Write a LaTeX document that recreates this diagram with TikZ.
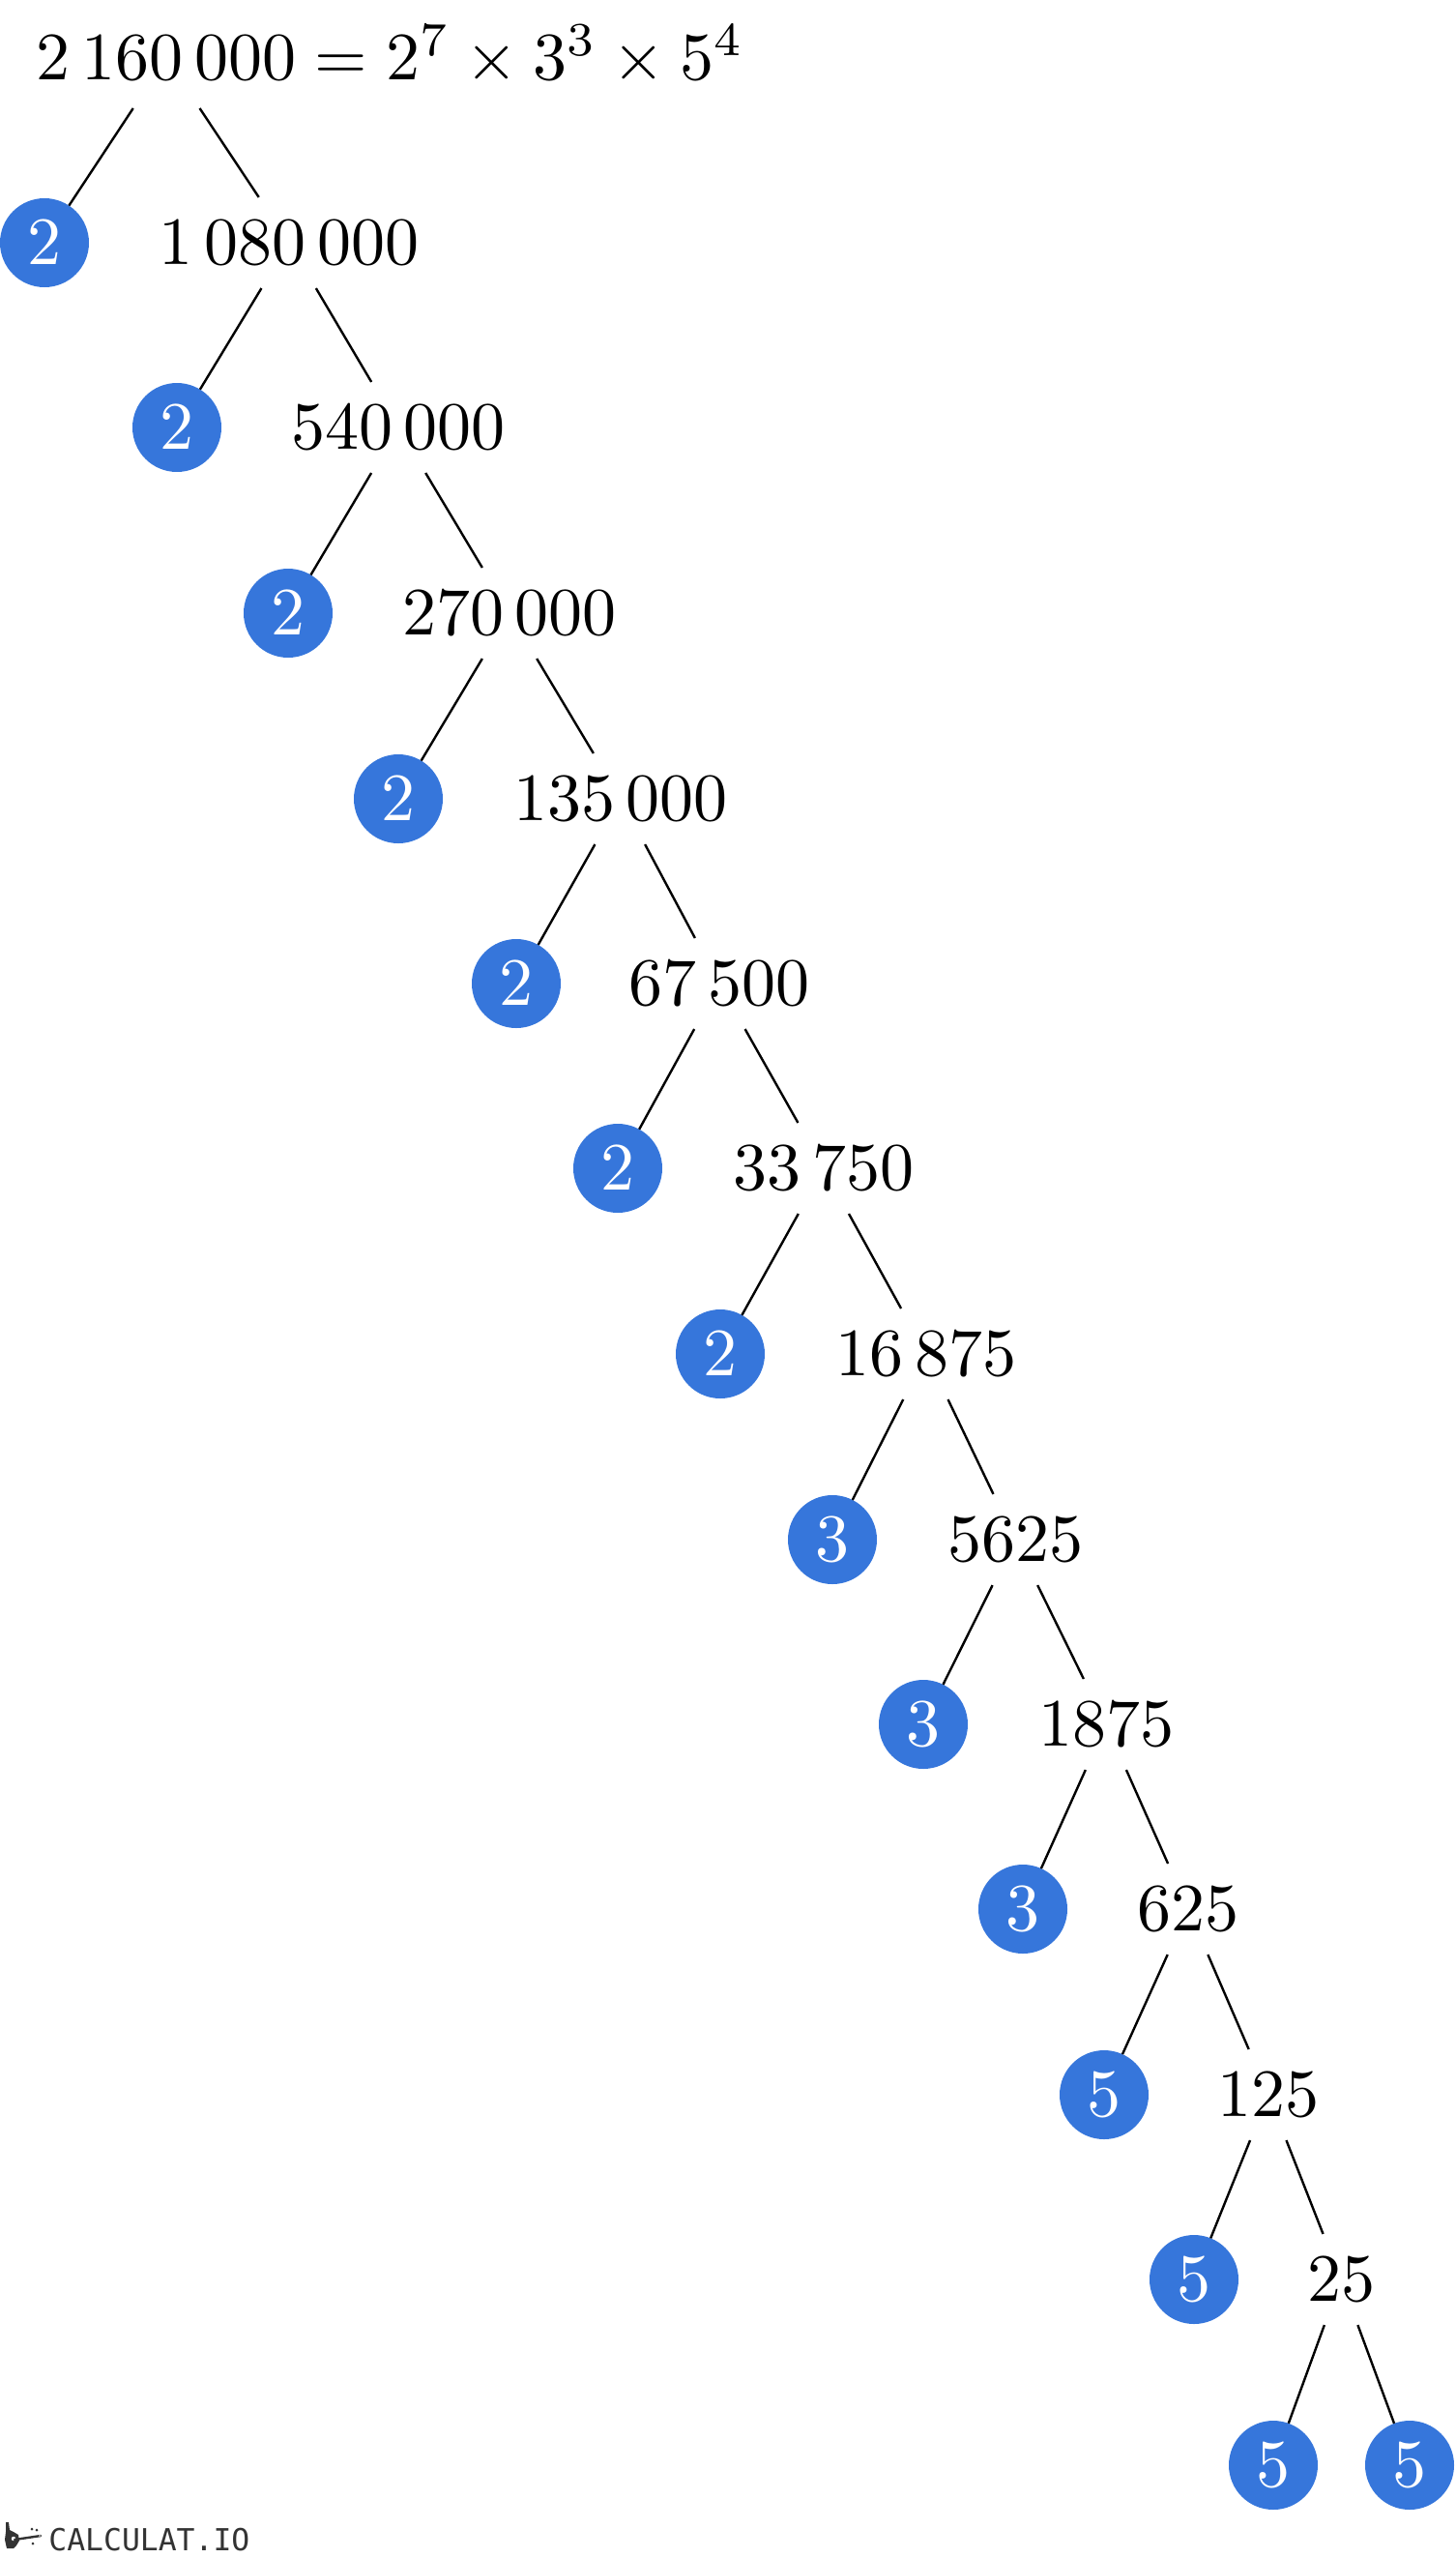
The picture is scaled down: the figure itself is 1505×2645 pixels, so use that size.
\documentclass[tikz,border=0pt]{standalone}
\usepackage{fontspec}
\newfontfamily\logofont{DejaVu Sans Mono}
\definecolor{pfblue}{HTML}{3676DB}
\definecolor{logogray}{HTML}{333333}
\begin{document}
\begin{tikzpicture}[x=0.5pt,y=-0.5pt,
  big/.style={font=\fontsize{10}{12}\selectfont, scale=3.5, transform shape},
  num/.style={big, inner xsep=0pt, inner ysep=3.5pt, outer sep=0pt},
  prime/.style={big, circle, fill=pfblue, text=white, minimum size=13.143pt, inner sep=0pt, outer sep=0pt},
  branch/.style={line width=1.2pt, black},
  spark/.style={fill=logogray, draw=none}]
\useasboundingbox (0,0) rectangle (1505,2645);

% root
\node[num, inner ysep=4.2pt] (r0) at (172,60) {$2\,160\,000$};
\node[big, anchor=base west, inner sep=0pt, outer sep=0pt] (eq) at (r0.base east) {${}=2^{7}\times 3^{3}\times 5^{4}$};

% levels
\node[prime] (c1) at (46,251) {$2$};
\node[num] (n1) at (299,251) {$1\,080\,000$};
\node[prime] (c2) at (183,442) {$2$};
\node[num] (n2) at (412,442) {$540\,000$};
\node[prime] (c3) at (298,634) {$2$};
\node[num] (n3) at (527,634) {$270\,000$};
\node[prime] (c4) at (412,826) {$2$};
\node[num] (n4) at (642,826) {$135\,000$};
\node[prime] (c5) at (534,1017) {$2$};
\node[num] (n5) at (744,1017) {$67\,500$};
\node[prime] (c6) at (639,1208) {$2$};
\node[num] (n6) at (852,1208) {$33\,750$};
\node[prime] (c7) at (745,1400) {$2$};
\node[num] (n7) at (958,1400) {$16\,875$};
\node[prime] (c8) at (861,1592) {$3$};
\node[num] (n8) at (1050,1592) {$5625$};
\node[prime] (c9) at (955,1783) {$3$};
\node[num] (n9) at (1144,1783) {$1875$};
\node[prime] (c10) at (1058,1974) {$3$};
\node[num] (n10) at (1229,1974) {$625$};
\node[prime] (c11) at (1142,2166) {$5$};
\node[num] (n11) at (1312,2166) {$125$};
\node[prime] (c12) at (1235,2357) {$5$};
\node[num] (n12) at (1387,2357) {$25$};
\node[prime] (c13) at (1317,2549) {$5$};
\node[prime] (c14) at (1458,2549) {$5$};

% branches
\draw[branch] (r0) -- (c1);  \draw[branch] (r0) -- (n1);
\draw[branch] (n1) -- (c2);  \draw[branch] (n1) -- (n2);
\draw[branch] (n2) -- (c3);  \draw[branch] (n2) -- (n3);
\draw[branch] (n3) -- (c4);  \draw[branch] (n3) -- (n4);
\draw[branch] (n4) -- (c5);  \draw[branch] (n4) -- (n5);
\draw[branch] (n5) -- (c6);  \draw[branch] (n5) -- (n6);
\draw[branch] (n6) -- (c7);  \draw[branch] (n6) -- (n7);
\draw[branch] (n7) -- (c8);  \draw[branch] (n7) -- (n8);
\draw[branch] (n8) -- (c9);  \draw[branch] (n8) -- (n9);
\draw[branch] (n9) -- (c10); \draw[branch] (n9) -- (n10);
\draw[branch] (n10) -- (c11); \draw[branch] (n10) -- (n11);
\draw[branch] (n11) -- (c12); \draw[branch] (n11) -- (n12);
\draw[branch] (n12) -- (c13); \draw[branch] (n12) -- (c14);

% logo
\fill[logogray] (6,2608) -- (9,2608) -- (10,2616) -- (14,2618) -- (19,2621) -- (20,2627) -- (17,2632) -- (14,2635) -- (7,2635) -- (5,2626) -- (6,2618) -- cycle;
\fill[white] (14,2625) circle[radius=2.2];
\draw[logogray, line width=1.2pt, line cap=round] (15,2626) -- (42,2622);
\fill[white] (41,2622) circle[radius=0.8];
\fill[spark] (33,2615) circle[radius=1.5];
\fill[spark] (38,2616) circle[radius=1.5];
\fill[spark] (34,2630) circle[radius=1.5];
\node[anchor=base west, inner sep=0pt, text=logogray, font=\logofont\fontsize{15.7}{18}\selectfont] (logo) at (50,2637) {CALCULAT.IO};
\end{tikzpicture}
\end{document}
